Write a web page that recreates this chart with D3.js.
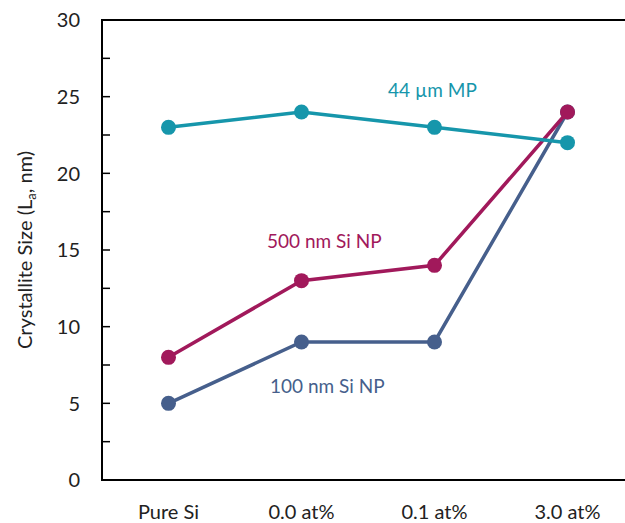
<!DOCTYPE html>
<html>
<head>
<meta charset="utf-8">
<script src="https://cdn.jsdelivr.net/npm/d3@7"></script>
<style>
  body { margin: 0; background: #fff; }
  svg { display: block; font-family: Lato, "Open Sans", sans-serif; }
</style>
</head>
<body>
<svg id="chart"></svg>
<script>
const width = 625;
const height = 523;

// data
const categories = ['Pure Si', '0.0 at%', '0.1 at%', '3.0 at%'];
const mp44 = [23, 24, 23, 22];
const np500 = [8, 13, 14, 24];
const np100 = [5, 9, 9, 24];
const yTicks = [0, 5, 10, 15, 20, 25, 30];

const series = [
  { name: '100 nm Si NP', values: np100, color: '#465f8c', label: [270, 393] },
  { name: '500 nm Si NP', values: np500, color: '#a1195b', label: [267, 248] },
  { name: '44 µm MP', values: mp44, color: '#1696ab', label: [388, 97] }
];

const margin = { top: 20, left: 102, bottom: 43 };

const svg = d3.select('#chart')
  .attr('width', width)
  .attr('height', height);

const x = d3.scaleBand()
  .domain(categories)
  .range([margin.left, margin.left + 532]);

const y = d3.scaleLinear()
  .domain([0, 30])
  .range([height - margin.bottom, margin.top]);

// frame: left, top and bottom lines (right side runs off the picture)
svg.append('path')
  .attr('d', `M${width + 10},${y(30)}H${margin.left}V${y(0)}H${width + 10}`)
  .attr('fill', 'none')
  .attr('stroke', '#000')
  .attr('stroke-width', 2);

// inner ticks every 2.5
svg.append('g')
  .selectAll('line')
  .data(d3.range(2.5, 30, 2.5))
  .join('line')
  .attr('x1', margin.left)
  .attr('x2', margin.left + 8)
  .attr('y1', d => y(d))
  .attr('y2', d => y(d))
  .attr('stroke', '#000')
  .attr('stroke-width', 1.5);

svg.append('g')
  .selectAll('text')
  .data(yTicks)
  .join('text')
  .attr('x', 80)
  .attr('y', d => y(d))
  .attr('dy', '0.36em')
  .attr('text-anchor', 'end')
  .attr('font-size', 20)
  .attr('fill', '#222')
  .text(d => d);

svg.append('g')
  .selectAll('text')
  .data(categories)
  .join('text')
  .attr('x', d => x(d) + x.bandwidth() / 2)
  .attr('y', 519)
  .attr('text-anchor', 'middle')
  .attr('font-size', 20)
  .attr('fill', '#222')
  .text(d => d);

// y axis title with subscript
const title = svg.append('text')
  .attr('transform', `translate(32,${(y(0) + y(30)) / 2}) rotate(-90)`)
  .attr('text-anchor', 'middle')
  .attr('font-size', 20)
  .attr('fill', '#222');
title.append('tspan').text('Crystallite Size (L');
title.append('tspan').attr('font-size', 13).attr('dy', 4).text('a');
title.append('tspan').attr('dy', -4).text(', nm)');

const line = d3.line()
  .x((d, i) => x(categories[i]) + x.bandwidth() / 2)
  .y(d => y(d));

series.forEach(s => {
  const g = svg.append('g');
  g.append('path')
    .attr('d', line(s.values))
    .attr('fill', 'none')
    .attr('stroke', s.color)
    .attr('stroke-width', 3.5);
  g.selectAll('circle')
    .data(s.values)
    .join('circle')
    .attr('cx', (d, i) => x(categories[i]) + x.bandwidth() / 2)
    .attr('cy', d => y(d))
    .attr('r', 7.5)
    .attr('fill', s.color);
  g.append('text')
    .attr('x', s.label[0])
    .attr('y', s.label[1])
    .attr('font-size', 19)
    .attr('fill', s.color)
    .text(s.name);
});
</script>
</body>
</html>
